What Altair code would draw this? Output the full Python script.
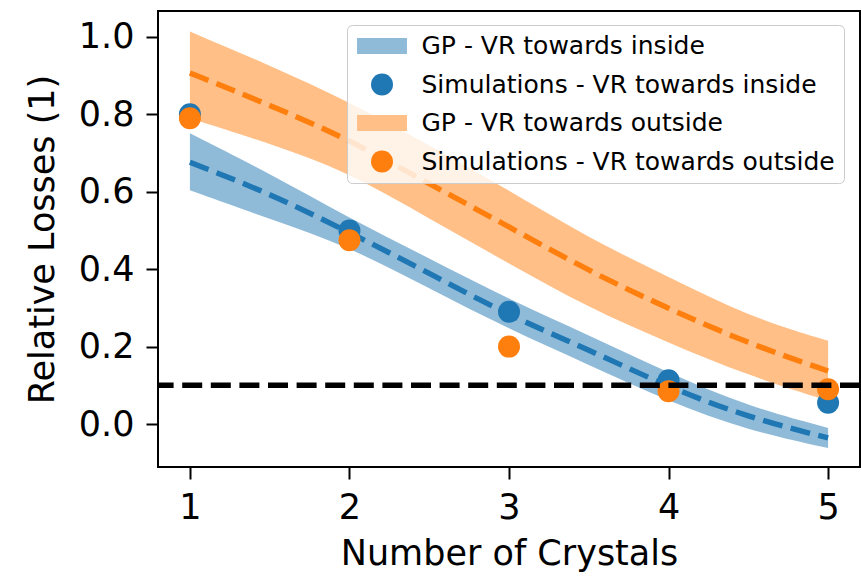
import altair as alt
import pandas as pd

# GP prediction grid (number of crystals)
x_gp = [1, 1.5, 2, 2.5, 3, 3.5, 4, 4.5, 5]
# GP - VR towards inside
in_mean = [0.676, 0.596, 0.495, 0.390, 0.280, 0.192, 0.095, 0.017, -0.036]
in_low = [0.604, 0.530, 0.458, 0.350, 0.245, 0.153, 0.058, -0.017, -0.062]
in_high = [0.751, 0.647, 0.532, 0.428, 0.322, 0.230, 0.132, 0.045, -0.010]
# GP - VR towards outside
out_mean = [0.907, 0.824, 0.735, 0.620, 0.510, 0.395, 0.298, 0.208, 0.137]
out_low = [0.790, 0.725, 0.650, 0.530, 0.415, 0.300, 0.210, 0.125, 0.060]
out_high = [1.014, 0.927, 0.832, 0.720, 0.604, 0.480, 0.380, 0.278, 0.215]

# Simulations
x_sim = [1, 2, 3, 4, 5]
sim_in = [0.800, 0.500, 0.290, 0.113, 0.055]
sim_out = [0.790, 0.475, 0.200, 0.085, 0.090]

threshold = [0.1]

labels = [
    "GP - VR towards inside",
    "Simulations - VR towards inside",
    "GP - VR towards outside",
    "Simulations - VR towards outside",
]
colors = ["#8fbbd9", "#1f77b4", "#ffbf86", "#ff7f0e"]
rect_path = "M-2.27,-0.73H2.27V0.73H-2.27Z"
shapes = [rect_path, "circle", rect_path, "circle"]

FONT = "DejaVu Sans"

gp_in = pd.DataFrame({"x": x_gp, "mean": in_mean, "low": in_low, "high": in_high})
gp_out = pd.DataFrame({"x": x_gp, "mean": out_mean, "low": out_low, "high": out_high})
sims = pd.DataFrame({
    "x": x_sim + x_sim,
    "y": sim_in + sim_out,
    "series": [labels[1]] * len(x_sim) + [labels[3]] * len(x_sim),
})
thr = pd.DataFrame({"y": threshold})

xscale = alt.Scale(domain=[0.8, 5.2], nice=False, zero=False)
yscale = alt.Scale(domain=[-0.111, 1.067], nice=False, zero=False)

xaxis = alt.Axis(values=[1, 2, 3, 4, 5], format="d", title="Number of Crystals")
yaxis = alt.Axis(values=[0, 0.2, 0.4, 0.6, 0.8, 1.0], format=".1f", title="Relative Losses (1)")

X = alt.X("x:Q", scale=xscale, axis=xaxis)
CURVE = "basis"


def band(df, color):
    return alt.Chart(df).mark_area(color=color, opacity=1, interpolate=CURVE).encode(
        x=X,
        y=alt.Y("low:Q", scale=yscale, axis=yaxis),
        y2="high:Q",
    )


def mean_line(df, color):
    return alt.Chart(df).mark_line(
        color=color, strokeWidth=5.4, strokeDash=[20, 8.6], interpolate=CURVE
    ).encode(x=X, y=alt.Y("mean:Q", scale=yscale, axis=yaxis))


points = alt.Chart(sims).mark_point(filled=True, size=484, opacity=1).encode(
    x=X,
    y=alt.Y("y:Q", scale=yscale, axis=yaxis),
    color=alt.Color(
        "series:N",
        scale=alt.Scale(domain=labels, range=colors),
        legend=alt.Legend(
            title=None,
            orient="none",
            legendX=189,
            legendY=14,
            symbolSize=484,
            symbolOffset=14,
            labelFontSize=25,
            labelFont=FONT,
            labelColor="black",
            labelOffset=27,
            rowPadding=12.5,
            padding=8.5,
            strokeColor="#cccccc",
            fillColor="rgba(255,255,255,0.8)",
            cornerRadius=5,
            labelLimit=600,
            symbolStrokeWidth=0,
        ),
    ),
    shape=alt.Shape("series:N", scale=alt.Scale(domain=labels, range=shapes), legend=None),
)

rule = alt.Chart(thr).mark_rule(color="black", strokeWidth=5.4, strokeDash=[20, 8.6]).encode(
    y=alt.Y("y:Q", scale=yscale, axis=yaxis)
)

chart = alt.layer(
    band(gp_in, colors[0]),
    band(gp_out, colors[2]),
    mean_line(gp_in, colors[1]),
    mean_line(gp_out, colors[3]),
    points,
    rule,
).properties(
    width=702,
    height=456,
    padding={"left": 158, "top": 11, "right": 1, "bottom": 111},
    autosize=alt.AutoSizeParams(type="none"),
).configure_view(
    stroke="black", strokeWidth=2
).configure_axis(
    labelFont=FONT,
    titleFont=FONT,
    labelFontSize=35,
    titleFontSize=35,
    titleFontWeight="normal",
    labelColor="black",
    titleColor="black",
    tickColor="black",
    tickSize=12,
    tickWidth=2,
    grid=False,
    domain=False,
).configure_axisX(
    labelPadding=11, titlePadding=11
).configure_axisY(
    labelPadding=12, titlePadding=18
)

chart.save("out.html", embed_options={"renderer": "svg", "actions": False})
